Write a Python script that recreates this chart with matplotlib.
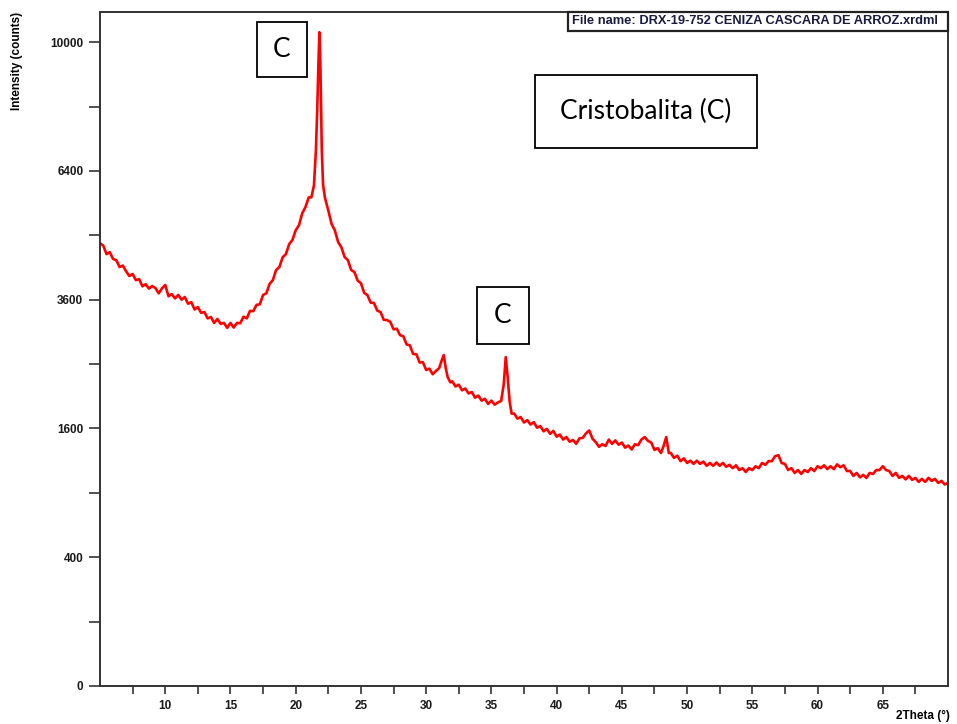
import numpy as np
import matplotlib
matplotlib.use("Agg")
import matplotlib.pyplot as plt
from matplotlib.patches import Rectangle

# diffractogram, 2theta (deg) vs intensity (counts)
two_theta = [
    5.00, 5.25, 5.50, 5.75, 6.00, 6.25, 6.50, 6.75, 7.00, 7.25,
    7.50, 7.75, 8.00, 8.25, 8.50, 8.75, 9.00, 9.25, 9.50, 9.75,
    10.00, 10.25, 10.50, 10.75, 11.00, 11.25, 11.50, 11.75, 12.00, 12.25,
    12.50, 12.75, 13.00, 13.25, 13.50, 13.75, 14.00, 14.25, 14.50, 14.75,
    15.00, 15.25, 15.50, 15.75, 16.00, 16.25, 16.50, 16.75, 17.00, 17.25,
    17.50, 17.75, 18.00, 18.25, 18.50, 18.75, 19.00, 19.25, 19.50, 19.75,
    20.00, 20.25, 20.50, 20.75, 21.00, 21.20, 21.40, 21.55, 21.65, 21.75,
    21.82, 21.90, 22.00, 22.10, 22.25, 22.50, 22.75, 23.00, 23.25, 23.50,
    23.75, 24.00, 24.25, 24.50, 24.75, 25.00, 25.25, 25.50, 25.75, 26.00,
    26.25, 26.50, 26.75, 27.00, 27.25, 27.50, 27.75, 28.00, 28.25, 28.50,
    28.75, 29.00, 29.25, 29.50, 29.75, 30.00, 30.25, 30.50, 30.75, 31.00,
    31.20, 31.35, 31.50, 31.65, 31.85, 32.00, 32.25, 32.50, 32.75, 33.00,
    33.25, 33.50, 33.75, 34.00, 34.25, 34.50, 34.75, 35.00, 35.25, 35.50,
    35.75, 35.95, 36.10, 36.25, 36.40, 36.55, 36.75, 37.00, 37.25, 37.50,
    37.75, 38.00, 38.25, 38.50, 38.75, 39.00, 39.25, 39.50, 39.75, 40.00,
    40.25, 40.50, 40.75, 41.00, 41.25, 41.50, 41.75, 42.00, 42.25, 42.50,
    42.75, 43.00, 43.25, 43.50, 43.75, 44.00, 44.25, 44.50, 44.75, 45.00,
    45.25, 45.50, 45.75, 46.00, 46.25, 46.50, 46.75, 47.00, 47.25, 47.50,
    47.75, 48.00, 48.20, 48.40, 48.60, 48.75, 49.00, 49.25, 49.50, 49.75,
    50.00, 50.25, 50.50, 50.75, 51.00, 51.25, 51.50, 51.75, 52.00, 52.25,
    52.50, 52.75, 53.00, 53.25, 53.50, 53.75, 54.00, 54.25, 54.50, 54.75,
    55.00, 55.25, 55.50, 55.75, 56.00, 56.25, 56.50, 56.75, 57.00, 57.25,
    57.50, 57.75, 58.00, 58.25, 58.50, 58.75, 59.00, 59.25, 59.50, 59.75,
    60.00, 60.25, 60.50, 60.75, 61.00, 61.25, 61.50, 61.75, 62.00, 62.25,
    62.50, 62.75, 63.00, 63.25, 63.50, 63.75, 64.00, 64.25, 64.50, 64.75,
    65.00, 65.25, 65.50, 65.75, 66.00, 66.25, 66.50, 66.75, 67.00, 67.25,
    67.50, 67.75, 68.00, 68.25, 68.50, 68.75, 69.00, 69.25, 69.50, 69.75,
    70.00,
]
counts = [
    4730, 4680, 4500, 4540, 4400, 4375, 4235, 4265, 4150, 4055,
    4095, 3975, 3995, 3855, 3895, 3810, 3860, 3820, 3720, 3815,
    3880, 3665, 3705, 3625, 3690, 3600, 3650, 3525, 3555, 3420,
    3465, 3360, 3375, 3260, 3285, 3180, 3250, 3165, 3180, 3095,
    3180, 3100, 3180, 3175, 3290, 3260, 3395, 3390, 3505, 3515,
    3690, 3720, 3900, 3975, 4175, 4235, 4435, 4500, 4710, 4800,
    5010, 5120, 5390, 5535, 5760, 5760, 6048, 6927, 8000, 9449,
    10313, 9149, 6927, 6048, 5742, 5455, 5150, 5010, 4755, 4645,
    4440, 4375, 4175, 4135, 3965, 3915, 3730, 3685, 3545, 3540,
    3400, 3375, 3235, 3230, 3200, 3070, 3080, 2970, 2950, 2815,
    2800, 2660, 2655, 2525, 2530, 2410, 2430, 2345, 2395, 2438,
    2563, 2642, 2438, 2302, 2225, 2240, 2165, 2190, 2110, 2135,
    2065, 2085, 2005, 2035, 1965, 1990, 1920, 1965, 1910, 1940,
    1960, 2200, 2610, 2300, 1950, 1790, 1790, 1725, 1745, 1675,
    1705, 1650, 1680, 1610, 1630, 1565, 1595, 1535, 1570, 1500,
    1525, 1465, 1495, 1440, 1460, 1415, 1480, 1485, 1540, 1575,
    1475, 1435, 1380, 1410, 1390, 1465, 1415, 1455, 1405, 1430,
    1370, 1395, 1350, 1410, 1400, 1465, 1495, 1450, 1430, 1345,
    1365, 1310, 1389, 1495, 1310, 1310, 1255, 1280, 1220, 1250,
    1200, 1225, 1190, 1225, 1190, 1215, 1170, 1200, 1170, 1205,
    1170, 1200, 1160, 1180, 1145, 1175, 1125, 1145, 1105, 1145,
    1125, 1165, 1145, 1200, 1180, 1220, 1220, 1275, 1285, 1200,
    1190, 1125, 1145, 1095, 1125, 1085, 1125, 1105, 1145, 1115,
    1165, 1145, 1175, 1135, 1165, 1135, 1185, 1155, 1175, 1115,
    1115, 1065, 1095, 1050, 1075, 1045, 1095, 1085, 1125, 1125,
    1165, 1125, 1115, 1065, 1095, 1045, 1065, 1030, 1065, 1025,
    1045, 1005, 1035, 1005, 1045, 1015, 1035, 995, 1015, 980,
    995,
]

y_ticks = [0, 400, 1600, 3600, 6400, 10000]
y_minor = [100, 900, 2500, 4900, 8100]
x_ticks = [10, 15, 20, 25, 30, 35, 40, 45, 50, 55, 60, 65]
x_minor = [7.5, 12.5, 17.5, 22.5, 27.5, 32.5, 37.5, 42.5, 47.5, 52.5, 57.5, 62.5, 67.5]

file_name = "File name: DRX-19-752 CENIZA CASCARA DE ARROZ.xrdml"
phase_label = "Cristobalita (C)"
peak_label = "C"

W, H = 957, 724
fig = plt.figure(figsize=(W / 100, H / 100), dpi=100)
ax = fig.add_axes([100 / W, 1 - 686 / H, 848 / W, 674 / H])

ax.plot(two_theta, counts, color="#ff0000", lw=1.9)

# square-root intensity axis
ax.set_yscale("function", functions=(lambda v: np.sqrt(np.clip(v, 0, None)), np.square))
ax.set_xlim(5, 70)
ax.set_ylim(0, 10960)

tick_font = dict(family=["Liberation Sans Narrow", "Liberation Sans"], weight="bold", size=8.5)
ax.set_yticks(y_ticks)
ax.set_yticks(y_minor, minor=True)
ax.set_yticklabels([str(v) for v in y_ticks], **tick_font)
ax.set_xticks(x_ticks)
ax.set_xticks(x_minor, minor=True)
ax.set_xticklabels([str(v) for v in x_ticks], **tick_font)
ax.tick_params(axis="y", which="both", direction="out", length=8, width=1.2,
               color="#333333", pad=4, labelcolor="#1a1a1a")
ax.tick_params(axis="x", which="both", direction="out", length=6, width=1.2,
               color="#333333", pad=4, labelcolor="#1a1a1a")
for s in ax.spines.values():
    s.set_color("#333333")
    s.set_linewidth(1.4)

fig.text(17 / W, 1 - 12 / H, "Intensity (counts)", rotation=90, ha="center", va="top",
         **tick_font)
fig.text(950 / W, 1 - 716 / H, "2Theta (°)", ha="right", va="center", **tick_font)

# file name banner, top right
fig.add_artist(Rectangle((568 / W, 1 - 31 / H), 380 / W, 19 / H, transform=fig.transFigure,
                         facecolor="white", edgecolor="#222222", lw=1.6))
fig.text(572 / W, 1 - 21.5 / H, file_name, ha="left", va="center", color="#1a1a40",
         **{**tick_font, "size": 9.3})

# phase annotation boxes
label_font = dict(family=["Lato", "DejaVu Sans"], size=19, color="black")
boxes = [
    (257, 22, 50, 55, peak_label),
    (477, 287, 52, 57, peak_label),
    (535, 75, 222, 73, phase_label),
]
for x0, y0, w, h, txt in boxes:
    fig.add_artist(Rectangle((x0 / W, 1 - (y0 + h) / H), w / W, h / H,
                             transform=fig.transFigure, facecolor="white",
                             edgecolor="black", lw=1.3))
    fig.text((x0 + w / 2) / W, 1 - (y0 + h / 2) / H, txt, ha="center", va="center",
             **label_font)

fig.savefig("out.png", dpi=100)
